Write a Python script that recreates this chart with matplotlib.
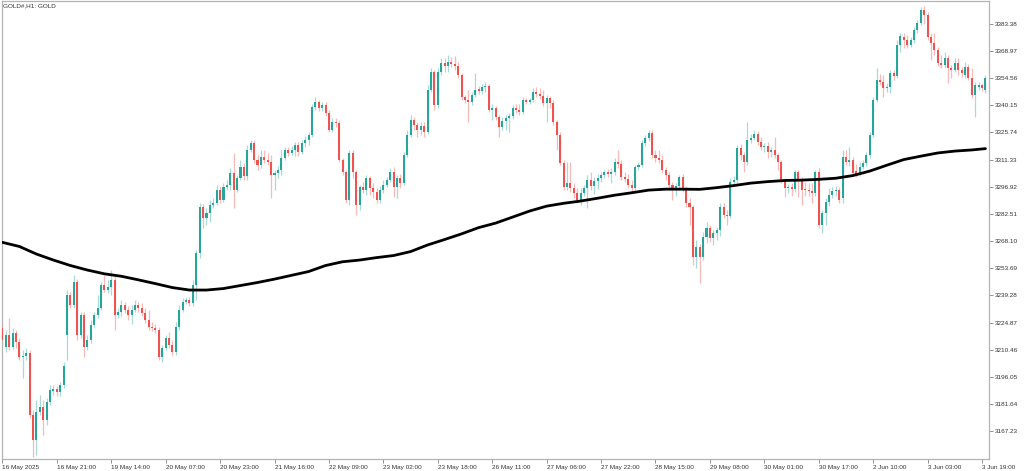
import matplotlib
matplotlib.use("Agg")
import matplotlib.pyplot as plt
import numpy as np

plt.rcParams['font.family'] = ['Liberation Sans', 'DejaVu Sans']

title = "GOLD#,H1: GOLD"

time_labels = ["16 May 2025", "16 May 21:00", "19 May 14:00", "20 May 07:00", "20 May 23:00",
               "21 May 16:00", "22 May 09:00", "23 May 02:00", "23 May 18:00", "26 May 11:00",
               "27 May 06:00", "27 May 22:00", "28 May 15:00", "29 May 08:00", "30 May 01:00",
               "30 May 17:00", "2 Jun 10:00", "3 Jun 03:00", "3 Jun 19:00"]

price_ticks = [3383.38, 3368.97, 3354.56, 3340.15, 3325.74, 3311.33, 3296.92, 3282.51,
               3268.10, 3253.69, 3239.28, 3224.87, 3210.46, 3196.05, 3181.64, 3167.23]

# hourly candles, 16 May 05:00 .. 3 Jun 21:00
opens = [
    3222.0, 3211.9, 3218.3, 3211.9, 3219.3, 3214.5, 3206.6, 3207.1, 3208.7, 3175.9,
    3162.6, 3177.4, 3180.1, 3173.2, 3182.7, 3188.6, 3189.6, 3188.0, 3191.8, 3218.3,
    3239.5, 3234.2, 3246.3, 3218.3, 3228.9, 3211.9, 3215.6, 3223.6, 3228.9, 3232.6,
    3244.8, 3242.1, 3243.7, 3247.4, 3228.9, 3230.4, 3234.2, 3231.5, 3228.9, 3231.5,
    3234.2, 3232.6, 3229.9, 3226.2, 3222.5, 3222.0, 3220.9, 3206.6, 3211.4, 3216.7,
    3213.0, 3209.2, 3222.5, 3231.5, 3235.7, 3236.8, 3235.2, 3244.8, 3261.7, 3286.1,
    3280.3, 3282.9, 3287.2, 3288.2, 3295.1, 3289.8, 3296.7, 3297.8, 3304.1, 3295.1,
    3301.5, 3307.3, 3302.5, 3316.3, 3320.0, 3311.0, 3308.4, 3312.6, 3311.0, 3309.9,
    3303.1, 3304.1, 3305.7, 3312.1, 3316.3, 3314.7, 3316.3, 3319.0, 3315.2, 3320.0,
    3321.6, 3324.3, 3339.1, 3341.7, 3338.6, 3340.2, 3335.9, 3326.9, 3331.1, 3330.6,
    3311.0, 3304.6, 3289.8, 3314.7, 3304.6, 3287.2, 3296.7, 3295.1, 3301.5, 3296.2,
    3294.0, 3289.8, 3295.1, 3297.8, 3300.4, 3304.6, 3296.7, 3301.5, 3298.8, 3313.7,
    3324.3, 3332.2, 3329.6, 3326.9, 3329.0, 3325.8, 3348.1, 3357.6, 3340.2, 3357.6,
    3362.4, 3360.8, 3362.9, 3361.9, 3360.8, 3356.1, 3344.4, 3342.8, 3341.7, 3345.5,
    3348.6, 3347.6, 3349.7, 3350.2, 3337.5, 3338.6, 3333.8, 3328.5, 3331.7, 3333.3,
    3334.3, 3338.6, 3337.5, 3336.4, 3342.8, 3341.7, 3342.8, 3347.0, 3346.0, 3344.9,
    3341.2, 3343.9, 3341.2, 3331.1, 3324.3, 3309.4, 3296.7, 3298.8, 3296.2, 3293.5,
    3289.8, 3293.5, 3296.2, 3300.4, 3297.2, 3299.9, 3301.5, 3303.1, 3304.6, 3303.6,
    3304.6, 3309.9, 3308.9, 3302.0, 3300.9, 3297.8, 3296.2, 3307.3, 3308.4, 3320.0,
    3322.7, 3325.3, 3313.7, 3312.1, 3311.0, 3305.7, 3303.1, 3297.8, 3296.2, 3297.2,
    3302.0, 3296.2, 3288.2, 3286.1, 3259.6, 3264.9, 3259.6, 3270.2, 3275.0, 3269.7,
    3272.3, 3273.9, 3286.1, 3281.9, 3281.3, 3299.3, 3300.4, 3317.4, 3313.7, 3309.9,
    3321.6, 3322.7, 3324.8, 3320.5, 3317.9, 3318.4, 3315.2, 3316.3, 3313.7, 3309.9,
    3300.4, 3296.2, 3296.7, 3295.6, 3304.6, 3300.4, 3295.6, 3295.1, 3294.6, 3293.5,
    3304.6, 3276.6, 3282.9, 3288.7, 3292.5, 3294.6, 3295.1, 3290.9, 3312.6, 3309.9,
    3311.0, 3305.2, 3303.6, 3307.3, 3309.4, 3313.7, 3324.3, 3342.8, 3353.4, 3352.3,
    3349.2, 3349.7, 3357.1, 3355.5, 3372.0, 3376.2, 3374.6, 3372.0, 3374.6, 3379.9,
    3383.6, 3390.5, 3387.9, 3376.2, 3373.0, 3369.3, 3362.4, 3361.4, 3365.1, 3359.8,
    3358.7, 3362.4, 3358.7, 3356.1, 3360.3, 3354.5, 3345.5, 3349.7, 3350.8, 3348.1,
]
highs = [
    3225.1, 3220.9, 3227.3, 3222.0, 3220.9, 3216.7, 3210.3, 3211.4, 3210.3, 3178.5,
    3183.8, 3186.5, 3183.8, 3184.9, 3191.8, 3191.8, 3191.2, 3193.3, 3203.9, 3242.1,
    3241.0, 3250.1, 3247.9, 3230.4, 3230.4, 3218.3, 3226.2, 3230.4, 3239.5, 3246.3,
    3250.1, 3247.4, 3252.7, 3249.5, 3232.6, 3236.8, 3235.7, 3233.6, 3234.2, 3236.8,
    3235.7, 3235.2, 3232.6, 3231.5, 3225.1, 3224.1, 3222.5, 3213.0, 3218.3, 3219.8,
    3215.6, 3225.1, 3234.2, 3237.9, 3238.4, 3238.4, 3247.4, 3263.3, 3288.2, 3287.7,
    3285.6, 3289.8, 3290.9, 3297.8, 3297.2, 3298.8, 3300.4, 3306.8, 3314.7, 3303.1,
    3311.0, 3309.4, 3319.0, 3321.6, 3321.6, 3313.7, 3316.3, 3316.3, 3314.7, 3313.7,
    3305.7, 3307.8, 3316.3, 3317.9, 3317.9, 3318.4, 3320.5, 3320.5, 3321.6, 3323.7,
    3325.8, 3340.7, 3344.4, 3342.8, 3341.7, 3341.7, 3337.5, 3333.3, 3333.3, 3332.2,
    3312.1, 3305.7, 3316.3, 3316.3, 3305.7, 3297.8, 3299.3, 3303.1, 3302.5, 3298.8,
    3296.2, 3297.2, 3300.4, 3302.0, 3306.8, 3307.3, 3303.1, 3303.6, 3315.2, 3326.9,
    3334.9, 3333.8, 3331.1, 3331.1, 3331.1, 3350.8, 3359.8, 3358.7, 3359.8, 3365.1,
    3365.1, 3366.7, 3365.6, 3366.1, 3362.9, 3357.1, 3345.5, 3348.1, 3347.0, 3357.1,
    3350.2, 3351.3, 3352.3, 3351.3, 3340.7, 3339.6, 3334.9, 3333.8, 3334.9, 3335.9,
    3340.2, 3340.7, 3340.7, 3344.4, 3343.9, 3343.9, 3349.2, 3349.7, 3349.2, 3348.1,
    3345.5, 3344.9, 3342.8, 3332.2, 3325.8, 3311.0, 3309.9, 3309.9, 3298.8, 3296.2,
    3296.2, 3297.8, 3303.1, 3304.6, 3302.0, 3303.6, 3304.6, 3305.7, 3306.2, 3306.8,
    3312.1, 3316.3, 3311.0, 3304.6, 3303.6, 3300.4, 3308.4, 3309.9, 3321.6, 3324.3,
    3326.9, 3326.9, 3316.3, 3316.3, 3313.7, 3307.3, 3304.6, 3299.3, 3298.8, 3303.1,
    3303.6, 3297.2, 3290.9, 3287.2, 3268.6, 3266.5, 3272.8, 3278.1, 3276.6, 3273.9,
    3275.5, 3288.2, 3288.2, 3284.5, 3301.5, 3302.5, 3319.0, 3319.5, 3315.2, 3331.1,
    3324.8, 3326.9, 3326.4, 3323.2, 3320.0, 3320.5, 3317.9, 3323.2, 3314.7, 3311.0,
    3301.5, 3298.3, 3298.8, 3305.7, 3305.7, 3302.0, 3299.3, 3298.8, 3298.8, 3305.7,
    3306.8, 3284.5, 3290.9, 3296.2, 3296.7, 3297.2, 3296.7, 3316.3, 3316.3, 3317.9,
    3312.6, 3308.9, 3309.9, 3311.0, 3315.2, 3325.8, 3344.4, 3359.8, 3356.6, 3356.1,
    3351.8, 3358.7, 3358.7, 3374.6, 3378.3, 3378.3, 3377.3, 3376.2, 3381.5, 3385.2,
    3392.1, 3392.6, 3389.4, 3378.3, 3378.3, 3370.9, 3366.7, 3368.2, 3366.7, 3361.4,
    3365.1, 3365.1, 3360.3, 3362.9, 3361.9, 3359.8, 3352.3, 3352.3, 3351.8, 3356.1,
]
lows = [
    3213.0, 3209.2, 3210.3, 3210.8, 3211.4, 3205.0, 3195.5, 3205.0, 3174.3, 3153.6,
    3154.7, 3175.9, 3165.3, 3170.6, 3181.2, 3186.5, 3185.9, 3185.9, 3190.2, 3205.0,
    3232.6, 3232.6, 3215.6, 3216.7, 3206.6, 3210.3, 3214.0, 3222.0, 3227.3, 3231.5,
    3241.0, 3240.5, 3239.5, 3220.9, 3227.3, 3228.3, 3229.9, 3226.2, 3224.1, 3230.4,
    3230.4, 3228.3, 3224.6, 3220.9, 3220.4, 3219.3, 3205.0, 3203.9, 3210.3, 3211.4,
    3207.6, 3207.6, 3220.9, 3230.4, 3234.7, 3233.6, 3233.6, 3236.8, 3259.1, 3275.0,
    3276.6, 3278.1, 3285.6, 3287.2, 3288.2, 3288.7, 3295.1, 3295.1, 3285.6, 3294.0,
    3300.4, 3300.4, 3300.4, 3315.2, 3309.4, 3305.7, 3306.8, 3309.4, 3308.4, 3290.9,
    3295.1, 3301.5, 3303.1, 3311.0, 3313.1, 3313.7, 3313.1, 3313.1, 3314.2, 3317.9,
    3319.0, 3323.2, 3337.5, 3337.0, 3337.0, 3334.3, 3325.8, 3325.8, 3328.5, 3309.9,
    3303.1, 3288.2, 3287.2, 3301.5, 3281.9, 3284.5, 3293.5, 3292.5, 3292.5, 3290.9,
    3288.2, 3288.2, 3293.5, 3296.7, 3299.3, 3291.4, 3290.9, 3296.2, 3297.8, 3312.6,
    3323.2, 3326.9, 3323.2, 3324.3, 3323.2, 3324.8, 3347.0, 3337.5, 3338.6, 3356.1,
    3357.6, 3357.6, 3360.3, 3358.7, 3354.5, 3342.8, 3341.2, 3331.1, 3340.2, 3344.4,
    3346.0, 3346.0, 3347.0, 3336.4, 3332.2, 3332.2, 3323.2, 3326.9, 3326.9, 3325.8,
    3332.7, 3335.9, 3334.9, 3335.4, 3340.7, 3340.7, 3341.7, 3344.4, 3343.3, 3339.6,
    3331.1, 3338.6, 3329.6, 3316.3, 3308.4, 3295.1, 3295.1, 3294.0, 3290.9, 3288.2,
    3287.2, 3291.9, 3285.6, 3295.1, 3293.0, 3295.6, 3299.3, 3301.5, 3302.0, 3298.8,
    3303.1, 3306.8, 3300.4, 3299.3, 3296.2, 3293.5, 3295.1, 3305.7, 3307.3, 3318.4,
    3321.1, 3312.1, 3309.9, 3309.4, 3304.1, 3300.4, 3295.1, 3289.8, 3291.9, 3295.1,
    3294.0, 3286.1, 3276.6, 3255.4, 3253.8, 3245.8, 3258.0, 3267.0, 3267.5, 3266.0,
    3268.6, 3270.7, 3280.3, 3276.6, 3280.3, 3297.8, 3298.8, 3311.0, 3304.6, 3308.4,
    3320.0, 3321.6, 3319.0, 3316.3, 3315.2, 3312.1, 3312.6, 3312.1, 3305.7, 3298.8,
    3291.4, 3293.5, 3291.9, 3294.0, 3291.4, 3287.2, 3291.9, 3291.9, 3288.2, 3291.9,
    3275.0, 3272.3, 3276.6, 3286.6, 3290.9, 3291.9, 3288.2, 3288.2, 3308.4, 3307.8,
    3302.5, 3302.0, 3302.5, 3306.2, 3307.8, 3312.1, 3323.2, 3341.7, 3350.8, 3344.4,
    3347.0, 3346.5, 3353.4, 3354.5, 3368.2, 3370.4, 3370.4, 3370.9, 3373.0, 3378.3,
    3382.6, 3383.1, 3374.6, 3364.0, 3366.7, 3360.8, 3359.8, 3359.8, 3351.8, 3354.5,
    3357.6, 3356.1, 3355.0, 3354.5, 3353.4, 3343.9, 3333.8, 3348.1, 3347.6, 3346.5,
]
closes = [
    3215.6, 3218.3, 3211.9, 3219.3, 3214.5, 3206.6, 3207.1, 3208.7, 3175.9, 3162.6,
    3177.4, 3180.1, 3173.2, 3182.7, 3189.1, 3189.6, 3188.0, 3191.8, 3201.8, 3239.5,
    3234.2, 3246.3, 3218.3, 3228.9, 3211.9, 3215.6, 3223.6, 3228.9, 3232.6, 3244.8,
    3242.1, 3243.7, 3247.4, 3228.9, 3230.4, 3234.2, 3231.5, 3228.9, 3231.5, 3234.2,
    3232.6, 3229.9, 3226.2, 3222.5, 3222.0, 3220.9, 3206.6, 3211.4, 3216.7, 3213.0,
    3209.2, 3222.5, 3231.5, 3235.7, 3236.8, 3235.2, 3244.8, 3261.7, 3286.1, 3280.3,
    3282.9, 3287.2, 3288.2, 3295.1, 3289.8, 3296.7, 3297.8, 3304.1, 3295.1, 3301.5,
    3307.3, 3302.5, 3316.3, 3320.0, 3311.0, 3308.4, 3312.6, 3311.0, 3309.9, 3303.1,
    3304.1, 3305.7, 3312.1, 3316.3, 3314.7, 3316.3, 3319.0, 3315.2, 3320.0, 3321.6,
    3324.3, 3339.1, 3341.7, 3338.6, 3340.2, 3335.9, 3326.9, 3331.1, 3330.6, 3311.0,
    3304.6, 3289.8, 3314.7, 3304.6, 3287.2, 3296.7, 3295.1, 3301.5, 3296.2, 3294.0,
    3289.8, 3295.1, 3297.8, 3300.4, 3304.6, 3296.7, 3301.5, 3298.8, 3313.7, 3324.3,
    3332.2, 3329.6, 3326.9, 3329.0, 3325.8, 3348.1, 3357.6, 3340.2, 3357.6, 3362.4,
    3360.8, 3362.9, 3361.9, 3360.8, 3356.1, 3344.4, 3342.8, 3341.7, 3345.5, 3348.1,
    3347.6, 3349.7, 3350.2, 3337.5, 3338.6, 3333.8, 3328.5, 3331.7, 3333.3, 3334.3,
    3338.6, 3337.5, 3336.4, 3342.8, 3341.7, 3342.8, 3347.0, 3346.0, 3344.9, 3341.2,
    3343.9, 3341.2, 3331.1, 3324.3, 3309.4, 3296.7, 3298.8, 3296.2, 3293.5, 3289.8,
    3293.5, 3296.2, 3300.4, 3297.2, 3299.9, 3301.5, 3303.1, 3304.6, 3303.6, 3304.6,
    3309.9, 3308.9, 3302.0, 3300.9, 3297.8, 3296.2, 3307.3, 3308.4, 3320.0, 3322.7,
    3325.3, 3313.7, 3312.1, 3311.0, 3305.7, 3303.1, 3297.8, 3296.2, 3297.2, 3302.0,
    3296.2, 3288.2, 3286.1, 3259.6, 3264.9, 3259.6, 3270.2, 3275.0, 3269.7, 3272.3,
    3273.9, 3286.1, 3281.9, 3281.3, 3299.3, 3300.4, 3317.4, 3313.7, 3309.9, 3321.6,
    3322.7, 3324.8, 3320.5, 3317.9, 3318.4, 3315.2, 3316.3, 3313.7, 3309.9, 3300.4,
    3296.2, 3296.7, 3295.6, 3304.6, 3300.4, 3295.1, 3295.1, 3294.6, 3293.5, 3304.6,
    3276.6, 3282.9, 3288.7, 3292.5, 3294.6, 3295.1, 3289.8, 3312.6, 3309.9, 3311.0,
    3304.1, 3303.6, 3307.3, 3309.4, 3313.7, 3324.3, 3342.8, 3353.4, 3352.3, 3349.2,
    3349.7, 3357.1, 3355.5, 3372.0, 3376.7, 3374.6, 3372.0, 3374.6, 3379.9, 3383.6,
    3390.5, 3387.9, 3376.2, 3373.0, 3369.3, 3362.4, 3361.4, 3365.1, 3359.8, 3358.7,
    3362.4, 3358.7, 3357.1, 3360.3, 3354.5, 3345.5, 3350.8, 3350.8, 3349.2, 3354.5,
]

# moving average read every 5 bars
ma_bar = [0, 5, 10, 15, 20, 25, 30, 35, 40, 45, 50, 55, 60, 65, 70, 75, 80, 85, 90, 95,
          100, 105, 110, 115, 120, 125, 130, 135, 140, 145, 150, 155, 160, 165, 170, 175,
          180, 185, 190, 195, 200, 205, 210, 215, 220, 225, 230, 235, 240, 245, 250, 255,
          260, 265, 270, 275, 280, 285, 289]
ma_value = [3267.4, 3265.2, 3261.2, 3258.0, 3255.1, 3252.7, 3250.7, 3249.4, 3247.5, 3245.5,
            3243.4, 3242.1, 3242.1, 3242.9, 3244.5, 3246.1, 3247.9, 3249.9, 3251.9, 3255.1,
            3257.1, 3258.0, 3259.3, 3260.4, 3262.5, 3266.0, 3268.9, 3271.9, 3275.2, 3277.6,
            3280.8, 3284.0, 3286.6, 3288.1, 3289.3, 3290.8, 3292.4, 3293.7, 3295.1, 3295.6,
            3295.6, 3295.5, 3296.4, 3297.5, 3298.8, 3299.6, 3300.2, 3300.4, 3300.8, 3301.4,
            3302.8, 3305.2, 3308.3, 3311.3, 3313.1, 3314.8, 3315.8, 3316.4, 3317.1]

UP = '#26a69a'
DOWN = '#ef5350'

o = np.array(opens)
h = np.array(highs)
l = np.array(lows)
c = np.array(closes)
x = np.arange(len(o))
up = c >= o
cols = np.where(up, UP, DOWN)

fig = plt.figure(figsize=(10.24, 4.71), dpi=100)
ax = fig.add_axes([0.002, 0.0255, 0.964, 0.972])

ax.vlines(x, l, h, colors=cols, alpha=0.4, linewidth=0.9, zorder=2)
body = np.maximum(np.abs(c - o), 0.5)
ax.bar(x, body, bottom=np.minimum(o, c), width=0.6, color=cols, linewidth=0, zorder=3)

ax.plot(ma_bar, ma_value, color='black', linewidth=2.0, solid_capstyle='round',
        solid_joinstyle='round', zorder=4)

ax.set_xlim(-0.1, 290.1)
ax.set_ylim(3152.5, 3395.3)

ax.yaxis.tick_right()
ax.set_yticks(price_ticks)
ax.set_yticklabels([f"{v:.2f}" for v in price_ticks])
ax.set_xticks(np.arange(0, 16 * len(time_labels), 16))
ax.set_xticklabels(time_labels)
for lbl in ax.get_xticklabels():
    lbl.set_ha('left')

ax.tick_params(axis='y', direction='out', length=3, width=0.6, color='#808080',
               labelsize=4.6, labelcolor='#333333', pad=1)
ax.tick_params(axis='x', direction='out', length=3, width=0.6, color='#808080',
               labelsize=4.6, labelcolor='#333333', pad=1.5)

for s in ax.spines.values():
    s.set_color('#b4b4b4')
    s.set_linewidth(0.9)

ax.text(0.001, 0.996, title, transform=ax.transAxes, ha='left', va='top',
        fontsize=4.6, color='#333333')

fig.savefig("out.png", dpi=100)
